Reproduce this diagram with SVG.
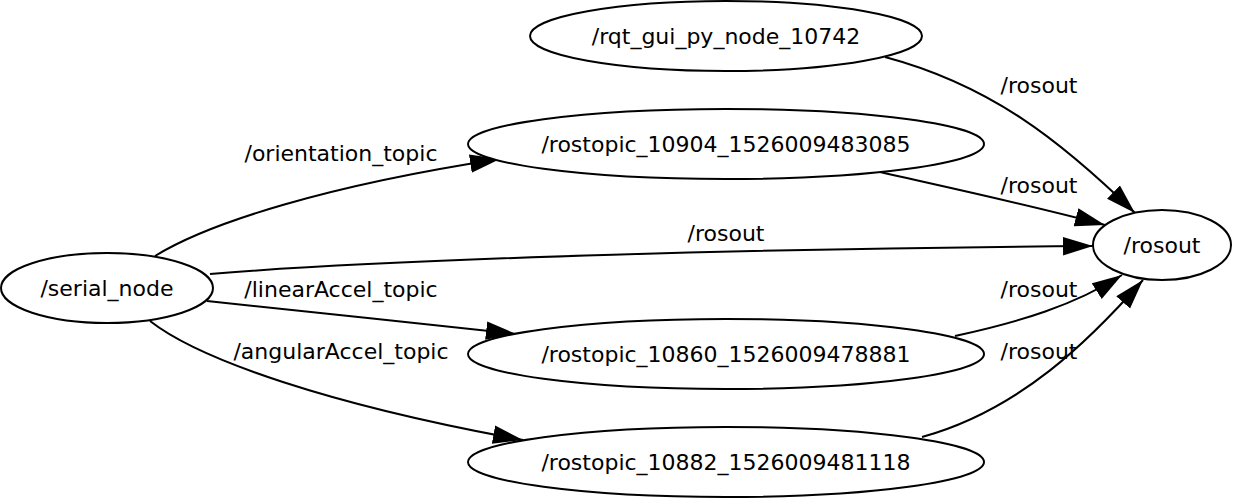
<svg xmlns="http://www.w3.org/2000/svg" width="1234" height="498" viewBox="0 0 1234 498">
<style>
.n ellipse{fill:#fff;stroke:#000;stroke-width:2}
text{font-family:"DejaVu Sans",sans-serif;font-size:22px;fill:#000;text-anchor:middle}
.e path{fill:none;stroke:#000;stroke-width:2}
</style>
<defs>
<marker id="ah" markerUnits="userSpaceOnUse" markerWidth="30" markerHeight="20" viewBox="0 0 26 16" refX="26" refY="8" orient="auto">
<path d="M0,0 L26,8 L0,16 Z" fill="#000"/>
</marker>
</defs>
<rect width="1234" height="498" fill="#fff"/>
<g class="e" id="edges">
<path d="M155,256 C210,222 330,185 500,159" marker-end="url(#ah)"/>
<text x="341" y="161">/orientation_topic</text>
<path d="M210,274 C400,258 800,248 1093,246" marker-end="url(#ah)"/>
<text x="726" y="241">/rosout</text>
<path d="M207,301 C300,311 420,323 516,334" marker-end="url(#ah)"/>
<text x="341" y="297">/linearAccel_topic</text>
<path d="M150,321 C200,360 330,405 523,440" marker-end="url(#ah)"/>
<text x="341" y="359">/angularAccel_topic</text>
<path d="M885,57 C990,85 1060,140 1135,213" marker-end="url(#ah)"/>
<text x="1039" y="93">/rosout</text>
<path d="M880,172 C960,190 1030,205 1105,225" marker-end="url(#ah)"/>
<text x="1039" y="193">/rosout</text>
<path d="M955,336 C1020,322 1075,305 1122,275" marker-end="url(#ah)"/>
<text x="1039" y="297">/rosout</text>
<path d="M922,437 C1020,410 1090,340 1143,280" marker-end="url(#ah)"/>
<text x="1039" y="359">/rosout</text>
</g>
<g class="n" id="serial_node"><ellipse cx="107" cy="288" rx="106" ry="35"/><text x="107" y="296">/serial_node</text></g>
<g class="n" id="rqt_gui"><ellipse cx="726" cy="36" rx="196" ry="35"/><text x="726" y="44">/rqt_gui_py_node_10742</text></g>
<g class="n" id="rostopic_10904"><ellipse cx="726" cy="144" rx="258" ry="35"/><text x="726" y="152">/rostopic_10904_1526009483085</text></g>
<g class="n" id="rostopic_10860"><ellipse cx="726" cy="354" rx="258" ry="35"/><text x="726" y="362">/rostopic_10860_1526009478881</text></g>
<g class="n" id="rostopic_10882"><ellipse cx="726" cy="462" rx="258" ry="35"/><text x="726" y="470">/rostopic_10882_1526009481118</text></g>
<g class="n" id="rosout"><ellipse cx="1162" cy="245" rx="69" ry="35"/><text x="1162" y="253">/rosout</text></g>
</svg>
